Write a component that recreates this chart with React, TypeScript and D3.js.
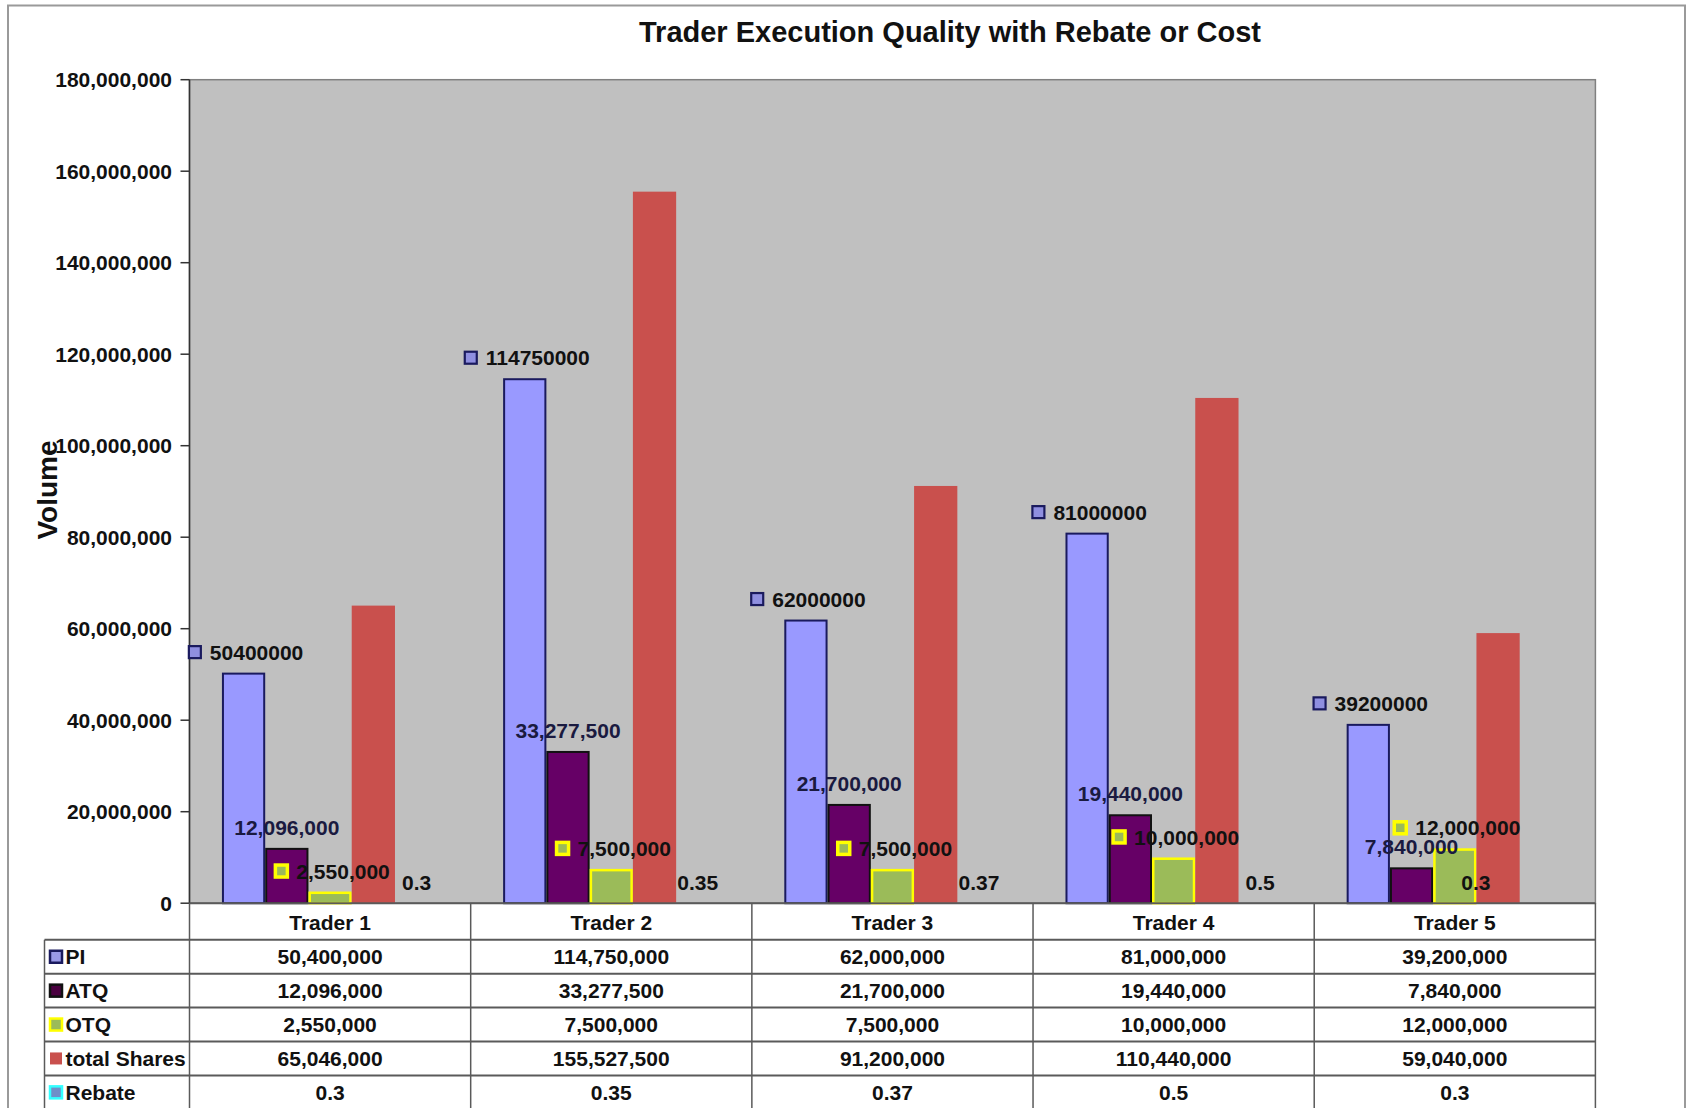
import React, { useEffect, useRef } from 'react';
import * as d3 from 'd3';

const chartTitle = 'Trader Execution Quality with Rebate or Cost';
const yAxisTitle = 'Volume';
const categories = ['Trader 1', 'Trader 2', 'Trader 3', 'Trader 4', 'Trader 5'];
const seriesNames = ['PI', 'ATQ', 'OTQ', 'total Shares', 'Rebate'];
const piValues = [50400000, 114750000, 62000000, 81000000, 39200000];
const atqValues = [12096000, 33277500, 21700000, 19440000, 7840000];
const otqValues = [2550000, 7500000, 7500000, 10000000, 12000000];
const totalSharesValues = [65046000, 155527500, 91200000, 110440000, 59040000];
const rebateValues = [0.3, 0.35, 0.37, 0.5, 0.3];
const yTicks = [0, 20000000, 40000000, 60000000, 80000000, 100000000, 120000000, 140000000, 160000000, 180000000];

const W = 1688;
const H = 1108;
const FONT = '"Liberation Sans", Arial, sans-serif';

type Style = { fill: string; stroke: string; sw: number; mfill: string; mstroke: string };
const styles: Record<string, Style> = {
  PI: { fill: '#9999FF', stroke: '#1a1a5e', sw: 2, mfill: '#9999e8', mstroke: '#1a1a5e' },
  ATQ: { fill: '#660066', stroke: '#111111', sw: 2, mfill: '#4a0040', mstroke: '#111111' },
  OTQ: { fill: '#9BBB59', stroke: '#FFFF00', sw: 2.5, mfill: '#9BBB59', mstroke: '#FFFF00' },
  'total Shares': { fill: '#C9504D', stroke: 'none', sw: 0, mfill: '#C9504D', mstroke: 'none' },
  Rebate: { fill: '#33CCCC', stroke: 'none', sw: 0, mfill: '#6f8fc8', mstroke: '#33FFFF' },
};

export default function App() {
  const ref = useRef<SVGSVGElement>(null);

  useEffect(() => {
    const svg = d3.select(ref.current);
    svg.selectAll('*').remove();

    const left = 189.5, right = 1595.4, top = 79.7, zero = 903.2;
    const seriesValues: Record<string, number[]> = {
      PI: piValues,
      ATQ: atqValues,
      OTQ: otqValues,
      'total Shares': totalSharesValues,
      Rebate: rebateValues,
    };

    // chart area
    svg.append('rect').attr('x', 0).attr('y', 0).attr('width', W).attr('height', H).attr('fill', '#ffffff');
    svg.append('rect').attr('x', 8).attr('y', 5.5).attr('width', 1677).attr('height', H + 20)
      .attr('fill', '#ffffff').attr('stroke', '#9a9a9a').attr('stroke-width', 2);

    const y = d3.scaleLinear().domain([0, 180000000]).range([zero, top]);
    const x0 = d3.scaleBand<string>().domain(categories).range([left, right]).paddingInner(0).paddingOuter(0);
    const x1 = d3.scaleBand<string>().domain(seriesNames).range([0, x0.bandwidth()]).paddingInner(0).paddingOuter(0.75);

    // plot area
    svg.append('rect').attr('x', left).attr('y', top).attr('width', right - left).attr('height', zero - top)
      .attr('fill', '#C0C0C0').attr('stroke', '#808080').attr('stroke-width', 1.5);

    // bars
    const g = svg.append('g');
    seriesNames.forEach((s) => {
      const st = styles[s];
      const vals = seriesValues[s];
      categories.forEach((c, i) => {
        const xx = (x0(c) as number) + (x1(s) as number);
        const yy = y(vals[i]);
        const h = zero - yy;
        if (h < 0.5) return;
        g.append('rect')
          .attr('x', xx + st.sw / 2)
          .attr('y', yy + st.sw / 2)
          .attr('width', x1.bandwidth() - st.sw)
          .attr('height', Math.max(0, h - st.sw / 2))
          .attr('fill', st.fill)
          .attr('stroke', st.stroke)
          .attr('stroke-width', st.sw);
      });
    });

    // y axis
    svg.append('line').attr('x1', left).attr('x2', left).attr('y1', top).attr('y2', zero)
      .attr('stroke', '#333').attr('stroke-width', 1.5);
    const fmt = d3.format(',');
    yTicks.forEach((t) => {
      svg.append('line').attr('x1', left - 9).attr('x2', left).attr('y1', y(t)).attr('y2', y(t))
        .attr('stroke', '#333').attr('stroke-width', 1.5);
      svg.append('text').attr('x', 172).attr('y', y(t)).attr('dy', '0.36em')
        .attr('text-anchor', 'end').attr('font-family', FONT).attr('font-weight', 'bold')
        .attr('font-size', 21).attr('fill', '#111').text(fmt(t));
    });

    // titles
    svg.append('text').attr('x', 950).attr('y', 32).attr('dy', '0.36em').attr('text-anchor', 'middle')
      .attr('font-family', FONT).attr('font-weight', 'bold').attr('font-size', 29).attr('fill', '#111')
      .text(chartTitle);
    svg.append('text').attr('transform', `translate(47,490) rotate(-90)`).attr('dy', '0.36em')
      .attr('text-anchor', 'middle').attr('font-family', FONT).attr('font-weight', 'bold')
      .attr('font-size', 28).attr('fill', '#111').text(yAxisTitle);

    // data labels
    const lab = svg.append('g').attr('font-family', FONT).attr('font-weight', 'bold').attr('font-size', 21);
    const labelGap = 20.5;
    categories.forEach((c, i) => {
      const bx = (s: string) => (x0(c) as number) + (x1(s) as number) + x1.bandwidth() / 2;
      // PI with legend key
      {
        const cx = bx('PI') + 13;
        const cy = y(piValues[i]) - labelGap;
        const t = lab.append('text').attr('x', cx).attr('y', cy).attr('dy', '0.36em')
          .attr('text-anchor', 'middle').attr('fill', '#111').text(String(piValues[i]));
        const w = (t.node() as SVGTextElement).getComputedTextLength();
        lab.append('rect').attr('x', cx - w / 2 - 21).attr('y', cy - 6).attr('width', 12).attr('height', 12)
          .attr('fill', '#8f8fe0').attr('stroke', '#1a1a5e').attr('stroke-width', 2.2);
      }
      // ATQ
      lab.append('text').attr('x', bx('ATQ')).attr('y', y(atqValues[i]) - labelGap).attr('dy', '0.36em')
        .attr('text-anchor', 'middle').attr('fill', '#1a1a40').text(fmt(atqValues[i]));
      // OTQ with legend key
      {
        const cx = bx('OTQ') + 13;
        const cy = y(otqValues[i]) - labelGap;
        const t = lab.append('text').attr('x', cx).attr('y', cy).attr('dy', '0.36em')
          .attr('text-anchor', 'middle').attr('fill', '#111').text(fmt(otqValues[i]));
        const w = (t.node() as SVGTextElement).getComputedTextLength();
        lab.append('rect').attr('x', cx - w / 2 - 21).attr('y', cy - 6).attr('width', 12).attr('height', 12)
          .attr('fill', '#9BBB59').attr('stroke', '#FFFF00').attr('stroke-width', 3.5);
      }
      // Rebate
      const rx = i === categories.length - 1 ? bx('OTQ') + 21 : bx('Rebate');
      lab.append('text').attr('x', rx).attr('y', y(rebateValues[i]) - labelGap).attr('dy', '0.36em')
        .attr('text-anchor', 'middle').attr('fill', '#111').text(String(rebateValues[i]));
    });

    // data table
    const tbl = svg.append('g');
    const legendLeft = 44.5;
    const headerBottom = 939.8;
    const rowH = 33.9;
    const tableBottom = H + 5;
    const lineColor = '#5a5a5a';
    tbl.append('line').attr('x1', left).attr('x2', right).attr('y1', zero).attr('y2', zero)
      .attr('stroke', lineColor).attr('stroke-width', 2);
    for (let r = 0; r <= seriesNames.length; r++) {
      const yy = headerBottom + r * rowH;
      tbl.append('line').attr('x1', legendLeft).attr('x2', right).attr('y1', yy).attr('y2', yy)
        .attr('stroke', lineColor).attr('stroke-width', 2);
    }
    tbl.append('line').attr('x1', legendLeft).attr('x2', legendLeft).attr('y1', headerBottom).attr('y2', tableBottom)
      .attr('stroke', lineColor).attr('stroke-width', 1.5);
    categories.forEach((c) => {
      const xx = x0(c) as number;
      tbl.append('line').attr('x1', xx).attr('x2', xx).attr('y1', zero).attr('y2', tableBottom)
        .attr('stroke', lineColor).attr('stroke-width', 1.5);
    });
    tbl.append('line').attr('x1', right).attr('x2', right).attr('y1', zero).attr('y2', tableBottom)
      .attr('stroke', lineColor).attr('stroke-width', 1.5);

    const tt = tbl.append('g').attr('font-family', FONT).attr('font-weight', 'bold').attr('font-size', 21).attr('fill', '#111');
    categories.forEach((c) => {
      tt.append('text').attr('x', (x0(c) as number) + x0.bandwidth() / 2).attr('y', (zero + headerBottom) / 2 + 1)
        .attr('dy', '0.36em').attr('text-anchor', 'middle').text(c);
    });
    seriesNames.forEach((s, r) => {
      const cy = headerBottom + r * rowH + rowH / 2;
      const st = styles[s];
      tbl.append('rect').attr('x', 50).attr('y', cy - 6).attr('width', 12).attr('height', 12)
        .attr('fill', st.mfill).attr('stroke', st.mstroke).attr('stroke-width', st.mstroke === 'none' ? 0 : 2.5);
      tt.append('text').attr('x', 65.5).attr('y', cy).attr('dy', '0.36em').attr('text-anchor', 'start').text(s);
      const vals = seriesValues[s];
      categories.forEach((c, i) => {
        tt.append('text').attr('x', (x0(c) as number) + x0.bandwidth() / 2).attr('y', cy).attr('dy', '0.36em')
          .attr('text-anchor', 'middle').text(s === 'Rebate' ? String(vals[i]) : fmt(vals[i]));
      });
    });
  }, []);

  return (
    <svg
      ref={ref}
      width={W}
      height={H}
      style={{ position: 'absolute', left: 0, top: 0, display: 'block' }}
    />
  );
}
